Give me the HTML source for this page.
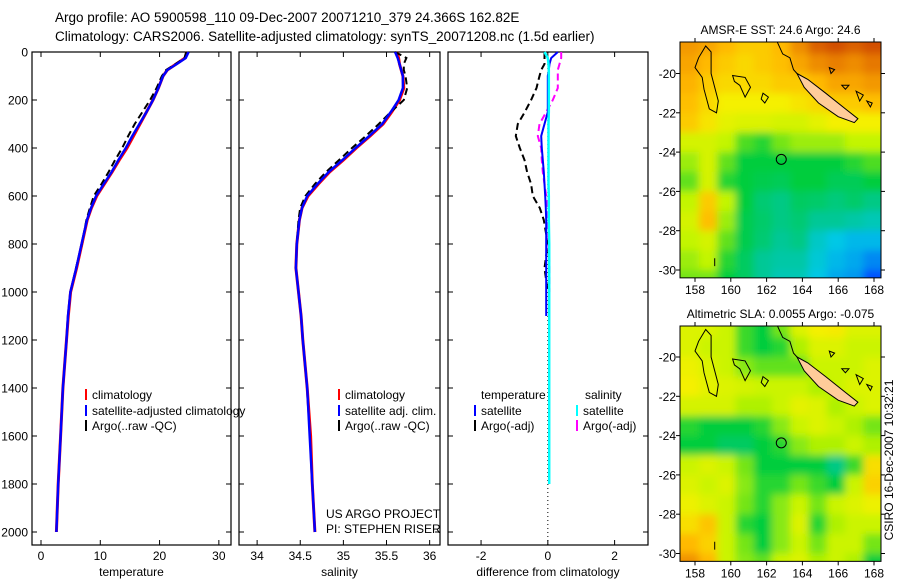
<!DOCTYPE html>
<html><head><meta charset="utf-8"><style>
html,body{margin:0;padding:0;background:#fff;}
svg{display:block;font-family:"Liberation Sans",sans-serif;}
</style></head><body>
<svg id="fig" width="900" height="580" viewBox="0 0 900 580">
<text x="55" y="22" font-size="13.5">Argo profile: AO 5900598_110 09-Dec-2007 20071210_379 24.366S 162.82E</text>
<text x="55" y="41" font-size="13.5">Climatology: CARS2006. Satellite-adjusted climatology: synTS_20071208.nc (1.5d earlier)</text>
<g id="panels"></g>
<g id="maps"></g>
<text transform="translate(893,460) rotate(-90)" font-size="12" text-anchor="middle">CSIRO 16-Dec-2007 10:32:21</text>
</svg>
<script>
// ---------- profile data ----------
const depths = [0,25,50,75,100,150,200,250,300,350,400,450,500,550,600,650,700,800,900,1000,1100,1200,1400,1600,1800,2000];
const tempClim = [24.6,24.3,22.8,21.3,20.6,19.8,18.9,17.8,16.7,15.6,14.5,13.2,12.0,10.7,9.4,8.5,7.8,6.9,6.0,5.0,4.6,4.3,3.7,3.3,2.9,2.6];
const tempSat = [24.9,24.4,22.9,21.3,20.6,19.8,18.9,17.8,16.6,15.4,14.3,13.05,11.9,10.6,9.3,8.45,7.75,6.85,5.95,4.95,4.55,4.3,3.7,3.3,2.9,2.6];
const tempArgo = [24.5,24.2,22.7,21.1,20.4,19.5,18.4,17.1,15.8,14.7,13.7,12.5,11.4,10.2,8.9,8.25,7.65,6.9,5.9,5.0];
const salClim = [35.62,35.64,35.65,35.67,35.69,35.70,35.65,35.56,35.46,35.31,35.15,35.0,34.84,34.71,34.59,34.52,34.49,34.46,34.45,34.48,34.51,34.53,34.58,34.62,34.64,34.67];
const salSat = [35.6,35.63,35.65,35.67,35.69,35.69,35.64,35.55,35.45,35.3,35.14,34.99,34.83,34.7,34.58,34.52,34.49,34.46,34.45,34.48,34.51,34.53,34.58,34.61,34.64,34.67];
const salArgo = [35.6,35.73,35.7,35.7,35.72,35.74,35.7,35.55,35.41,35.26,35.1,34.95,34.8,34.67,34.56,34.5,34.48,34.46,34.45,34.48];
const tempSatDiff = [0.3,0.1,0.05,0.03,0,0,0,0,-0.1,-0.2,-0.18,-0.15,-0.12,-0.1,-0.08,-0.06,-0.05,-0.05,-0.05,-0.05,-0.05];
const tempArgoDiff = [-0.1,-0.1,-0.1,-0.2,-0.25,-0.34,-0.5,-0.69,-0.9,-0.96,-0.84,-0.7,-0.62,-0.5,-0.45,-0.24,-0.12,0,-0.1,0];
const salSatDiff = [-0.1,0,0.02,0.03,0.03,0.03,0.03,0.03,0.02,0.02,0.02,0.02,0.02,0.02,0.03,0.03,0.03,0.04,0.04,0.04,0.04,0.04,0.04,0.04,0.04];
const salArgoDiff = [0.4,0.4,0.35,0.3,0.3,0.3,0.15,-0.05,-0.25,-0.3,-0.2,-0.18,-0.15,-0.1,-0.05,0,0,0.02,0.05,0.05];
const depthTicks = [0,200,400,600,800,1000,1200,1400,1600,1800,2000];
const tempTicks = [0,10,20,30];
const salTicks = [34,34.5,35,35.5,36];
const diffTicks = [-2,0,2];

// ---------- map data (colormap index 0..1) ----------
const sstGrid = [
[0.8,0.78,0.75,0.72,0.72,0.75,0.82,0.88,0.9,0.88,0.9],
[0.78,0.75,0.72,0.7,0.72,0.74,0.78,0.82,0.84,0.82,0.85],
[0.76,0.72,0.7,0.7,0.7,0.72,0.72,0.75,0.78,0.78,0.8],
[0.74,0.7,0.66,0.66,0.66,0.66,0.68,0.7,0.72,0.72,0.74],
[0.72,0.68,0.64,0.63,0.63,0.62,0.62,0.64,0.66,0.66,0.66],
[0.62,0.62,0.6,0.54,0.52,0.56,0.58,0.58,0.58,0.6,0.6],
[0.58,0.62,0.55,0.5,0.5,0.5,0.5,0.5,0.5,0.52,0.54],
[0.55,0.62,0.52,0.5,0.48,0.47,0.5,0.5,0.47,0.47,0.5],
[0.6,0.72,0.6,0.5,0.44,0.42,0.46,0.45,0.43,0.45,0.42],
[0.62,0.74,0.58,0.48,0.45,0.42,0.44,0.4,0.4,0.38,0.36],
[0.6,0.62,0.55,0.48,0.44,0.4,0.42,0.34,0.3,0.28,0.28],
[0.58,0.6,0.52,0.46,0.4,0.38,0.38,0.32,0.28,0.26,0.22],
[0.56,0.56,0.5,0.46,0.4,0.36,0.36,0.3,0.26,0.24,0.15]];
const slaGrid = [
[0.63,0.63,0.61,0.53,0.5,0.56,0.63,0.66,0.67,0.63,0.63],
[0.63,0.61,0.61,0.53,0.5,0.52,0.59,0.63,0.63,0.61,0.61],
[0.65,0.63,0.61,0.57,0.55,0.55,0.55,0.61,0.61,0.61,0.63],
[0.66,0.64,0.63,0.62,0.61,0.61,0.61,0.59,0.61,0.63,0.63],
[0.62,0.62,0.62,0.59,0.59,0.61,0.64,0.63,0.59,0.61,0.63],
[0.52,0.5,0.5,0.5,0.52,0.57,0.61,0.63,0.61,0.59,0.56],
[0.5,0.5,0.46,0.46,0.5,0.52,0.57,0.59,0.59,0.61,0.59],
[0.61,0.63,0.61,0.56,0.5,0.5,0.5,0.5,0.42,0.53,0.69],
[0.63,0.61,0.63,0.57,0.52,0.52,0.56,0.53,0.5,0.61,0.71],
[0.65,0.63,0.61,0.56,0.52,0.57,0.61,0.56,0.61,0.63,0.65],
[0.69,0.73,0.61,0.52,0.5,0.57,0.63,0.52,0.59,0.61,0.61],
[0.75,0.71,0.61,0.56,0.5,0.57,0.61,0.56,0.61,0.61,0.56],
[0.81,0.75,0.61,0.57,0.55,0.61,0.63,0.59,0.61,0.59,0.5]];
const lonTicks = [158,160,162,164,166,168];
const latTicks = [-20,-22,-24,-26,-28,-30];
const argoLon = 162.82, argoLat = -24.37;

const NS = 'http://www.w3.org/2000/svg';
function mk(tag, attrs, parent){ const e=document.createElementNS(NS,tag); for(const k in attrs) e.setAttribute(k,attrs[k]); parent.appendChild(e); return e; }

const TOP=52, BOT=545;
const yD = d => TOP + d*0.24;
const panelsG = document.getElementById('panels');
const panels = [
 {name:'temperature', x0:32, x1:231, vmin:-1.52, vmax:32.05, ticks:tempTicks, label:'temperature', ylabels:true},
 {name:'salinity', x0:239, x1:440, vmin:33.79, vmax:36.12, ticks:salTicks, label:'salinity', ylabels:false},
 {name:'difference', x0:448, x1:648, vmin:-2.99, vmax:3.0, ticks:diffTicks, label:'difference from climatology', ylabels:false}
];
panels.forEach(p=>{ p.xs = v => p.x0 + (v-p.vmin)/(p.vmax-p.vmin)*(p.x1-p.x0); });

function line(p, vals, color, w, dash, name){
  const pts = vals.map((v,i)=>p.xs(v).toFixed(1)+','+yD(depths[i]).toFixed(1)).join(' ');
  const el = mk('polyline',{points:pts,fill:'none',stroke:color,'stroke-width':w},panelsG);
  if(dash) el.setAttribute('stroke-dasharray',dash);
  
  
}

panels.forEach(p=>{
  const g = mk('g',{},panelsG);
  
  
  const fr = mk('rect',{x:p.x0,y:TOP,width:p.x1-p.x0,height:BOT-TOP,fill:'none',stroke:'#000','stroke-width':1.2},g);
  
  
  depthTicks.forEach(d=>{
    mk('line',{x1:p.x0,x2:p.x0+5,y1:yD(d),y2:yD(d),stroke:'#000'},g);
    mk('line',{x1:p.x1,x2:p.x1-5,y1:yD(d),y2:yD(d),stroke:'#000'},g);
    if(p.ylabels){
      const t=mk('text',{x:p.x0-4,y:yD(d)+4.5,'font-size':12,'text-anchor':'end'},g);
      t.textContent=d;
      
      
    }
  });
  p.ticks.forEach(v=>{
    const x=p.xs(v);
    mk('line',{x1:x,x2:x,y1:BOT,y2:BOT-5,stroke:'#000'},g);
    mk('line',{x1:x,x2:x,y1:TOP,y2:TOP+5,stroke:'#000'},g);
    const t=mk('text',{x:x,y:BOT+15,'font-size':12,'text-anchor':'middle'},g);
    t.textContent=v;
    
    
  });
  const xl=mk('text',{x:(p.x0+p.x1)/2,y:BOT+31,'font-size':12,'text-anchor':'middle'},g);
  xl.textContent=p.label;
  
  
});

const [pT,pS,pD]=panels;
line(pT,tempClim,'#ff0000',3,null,'temp-climatology-line');
line(pT,tempArgo,'#000',2,'7,4','temp-argo-line');
line(pT,tempSat,'#0000ff',2.5,null,'temp-satellite-line');
line(pS,salClim,'#ff0000',3,null,'sal-climatology-line');
line(pS,salArgo,'#000',2,'7,4','sal-argo-line');
line(pS,salSat,'#0000ff',2.5,null,'sal-satellite-line');
const zl=mk('line',{x1:pD.xs(0),x2:pD.xs(0),y1:TOP,y2:BOT,stroke:'#000','stroke-dasharray':'1,3'},panelsG);


line(pD,tempArgoDiff,'#000',2,'7,4','temp-argo-diff-line');
line(pD,salArgoDiff,'#ff00ff',2,'7,4','sal-argo-diff-line');
line(pD,tempSatDiff,'#0000ff',2,null,'temp-satellite-diff-line');
line(pD,salSatDiff,'#00ffff',2.5,null,'sal-satellite-diff-line');

function legend(x,y,color,text,name){
  const g=mk('g',{},panelsG);
  
  
  if(color) mk('rect',{x:x,y:y-8,width:2,height:11,fill:color},g);
  const t=mk('text',{x:x+(color?7:0),y:y+2,'font-size':12},g);
  t.textContent=text;
}
legend(85,397,'#ff0000','climatology','legend-temp-climatology');
legend(85,413,'#0000ff','satellite-adjusted climatology','legend-temp-satellite');
legend(85,428,'#000','Argo(..raw -QC)','legend-temp-argo');
legend(338,397,'#ff0000','climatology','legend-sal-climatology');
legend(338,413,'#0000ff','satellite adj. clim.','legend-sal-satellite');
legend(338,428,'#000','Argo(..raw -QC)','legend-sal-argo');
legend(481,397,null,'temperature','legend-diff-temperature-heading');
legend(585,397,null,'salinity','legend-diff-salinity-heading');
legend(474,413,'#0000ff','satellite','legend-diff-temp-satellite');
legend(474,428,'#000','Argo(-adj)','legend-diff-temp-argo');
legend(576,413,'#00ffff','satellite','legend-diff-sal-satellite');
legend(576,428,'#ff00ff','Argo(-adj)','legend-diff-sal-argo');
legend(326,516,null,'US ARGO PROJECT','project-label');
legend(326,531,null,'PI: STEPHEN RISER','pi-label');

// ---------- maps ----------
function cmap(v){
  const stops=[[0,[0,0,140]],[0.15,[0,80,255]],[0.3,[0,200,230]],[0.4,[0,200,150]],[0.5,[0,205,60]],[0.6,[195,245,0]],[0.66,[245,240,0]],[0.75,[255,185,0]],[0.85,[230,120,0]],[1,[170,0,0]]];
  for(let i=1;i<stops.length;i++){ if(v<=stops[i][0]){ const a=stops[i-1],b=stops[i],t=(v-a[0])/(b[0]-a[0]); return 'rgb('+a[1].map((c,k)=>Math.round(c+(b[1][k]-c)*t)).join(',')+')'; } }
  return 'rgb(170,0,0)';
}
const mapsG=document.getElementById('maps');
const MX0=680, MX1=881;
const xL = lon => 695 + (lon-158)*17.9;
function drawMap(grid, top, y20, title, name, id){
  const yL = lat => y20 + (-20-lat)*19.65;
  const g=mk('g',{},mapsG);
  
  
  const bottom = yL(-30.4);
  const defs=mk('defs',{},g);
  const cp=mk('clipPath',{id:'clip'+id},defs);
  mk('rect',{x:MX0,y:top,width:MX1-MX0,height:bottom-top},cp);
  const f=mk('filter',{id:'blur'+id,x:'-10%',y:'-10%',width:'120%',height:'120%'},defs);
  mk('feGaussianBlur',{stdDeviation:4},f);
  const cg=mk('g',{'clip-path':'url(#clip'+id+')'},g);
  const bg=mk('g',{filter:'url(#blur'+id+')'},cg);
  grid.forEach((row,r)=>{
    row.forEach((v,c)=>{
      const lat0=-18+(-r)*1, lon0=157.2+c*1.02;
      let x=xL(lon0), w=1.02*17.9+0.5, y=yL(lat0), h=19.65+0.5;
      if(c===0){x-=20;w+=20;} if(c===row.length-1){w+=20;}
      if(r===0){y-=20;h+=20;} if(r===grid.length-1){h+=20;}
      const cell=mk('rect',{x:x,y:y,width:w,height:h,fill:cmap(v)},bg);
      
      
    });
  });
  const poly=(pts,fill)=>mk('polygon',{points:pts.map(p=>xL(p[0]).toFixed(1)+','+yL(p[1]).toFixed(1)).join(' '),fill:fill,stroke:'#000','stroke-width':1},cg);
  const pl=(pts)=>mk('polyline',{points:pts.map(p=>xL(p[0]).toFixed(1)+','+yL(p[1]).toFixed(1)).join(' '),fill:'none',stroke:'#000','stroke-width':1},cg);
  poly([[158.6,-18.6],[158.9,-18.9],[158.9,-20],[159.3,-21.4],[159.2,-22],[158.8,-21.8],[158.5,-20.8],[158.4,-20.2],[158.0,-19.7],[158.2,-19.2]],'none');
  poly([[160.1,-20.1],[160.8,-20.2],[161.1,-20.7],[160.8,-21.2],[160.5,-20.6],[160.2,-20.4]],'none');
  poly([[161.8,-21.0],[162.1,-21.2],[161.9,-21.5],[161.7,-21.3]],'none');
  pl([[162.6,-18.4],[162.9,-19.0],[163.3,-19.2],[163.5,-19.8],[163.8,-20.1]]);
  const nc=poly([[163.7,-20.0],[164.3,-20.3],[165.3,-21.0],[166.4,-21.8],[167.1,-22.3],[166.9,-22.5],[166.0,-22.2],[164.9,-21.5],[164.1,-20.7]],'#ffcc99');
  
  
  poly([[165.5,-19.7],[165.8,-19.8],[165.6,-20.0]],'none');
  poly([[166.2,-20.6],[166.6,-20.6],[166.4,-20.8]],'none');
  poly([[167.0,-20.9],[167.4,-21.1],[167.2,-21.4]],'none');
  poly([[167.6,-21.4],[167.9,-21.5],[167.8,-21.7]],'none');
  pl([[159.1,-29.4],[159.1,-29.8]]);
  const ac=mk('circle',{cx:xL(argoLon),cy:yL(argoLat),r:5,fill:'none',stroke:'#000','stroke-width':1},g);
  
  
  mk('rect',{x:MX0,y:top,width:MX1-MX0,height:bottom-top,fill:'none',stroke:'#000','stroke-width':1},g);
  lonTicks.forEach(l=>{
    const x=xL(l);
    mk('line',{x1:x,x2:x,y1:top,y2:top-4,stroke:'#000'},g);
    mk('line',{x1:x,x2:x,y1:bottom,y2:bottom+4,stroke:'#000'},g);
    const t=mk('text',{x:x,y:bottom+16,'font-size':12,'text-anchor':'middle'},g);
    t.textContent=l;
    
    
  });
  latTicks.forEach(l=>{
    const y=yL(l);
    mk('line',{x1:MX0,x2:MX0-4,y1:y,y2:y,stroke:'#000'},g);
    mk('line',{x1:MX1,x2:MX1+4,y1:y,y2:y,stroke:'#000'},g);
    const t=mk('text',{x:MX0-4,y:y+4.5,'font-size':12,'text-anchor':'end'},g);
    t.textContent=l;
    
    
  });
  const tt=mk('text',{x:(MX0+MX1)/2,y:top-8,'font-size':12,'text-anchor':'middle'},g);
  tt.textContent=title;
  
  
}
drawMap(sstGrid,42,73.5,'AMSR-E SST: 24.6 Argo: 24.6','sst-map','1');
drawMap(slaGrid,326,357,'Altimetric SLA: 0.0055 Argo: -0.075','sla-map','2');
</script>
</body></html>
